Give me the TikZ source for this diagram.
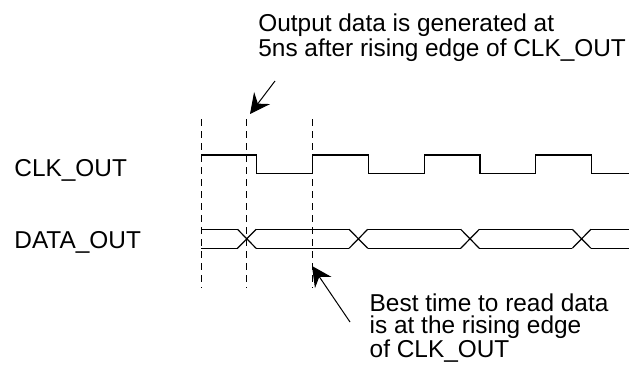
\documentclass[tikz,border=0pt]{standalone}
\usepackage{fontspec}
\setmainfont{Liberation Sans}
\usetikzlibrary{arrows.meta}

\begin{document}
\begin{tikzpicture}[
    x=0.5pt,y=-0.5pt,
    nom/.style    = {inner sep=0pt,anchor=base west,
                     font=\fontsize{12.2}{10.85}\selectfont},
    remarque/.style = {inner sep=0pt,anchor=north west,align=left,
                     font=\fontsize{12.2}{10.85}\selectfont},
    signal/.style = {line width=0.6pt,line join=miter},
    repere/.style = {line width=0.5pt,dash pattern=on 3.5pt off 2.5pt},
    fleche/.style = {line width=0.5pt,
                     -{Stealth[length=10pt,width=10pt,inset=3.5pt]}},
  ]
  \useasboundingbox (0,0) rectangle (640,369);

  % ── Noms des signaux ─────────────────────────────────────────────────────
  \node[nom] (clk)  at (14,176)   {CLK\_OUT};
  \node[nom] (data) at (14,248.3) {DATA\_OUT};

  % ── CLK_OUT ──────────────────────────────────────────────────────────────
  \draw[signal] (201,155)
    \foreach \x in {256.8,368.4,480} {
      -- (\x,155) -- (\x,173.7) -- (\x+55.8,173.7) -- (\x+55.8,155)
    }
    -- (591.6,155) -- (591.6,173.7) -- (629,173.7);

  % ── DATA_OUT ─────────────────────────────────────────────────────────────
  \foreach \a/\b in {201/237.5,256.1/349.1,367.7/460.7,479.3/572.3,590.9/629}
    \draw[signal] (\a,229.3) -- (\b,229.3) (\a,248.3) -- (\b,248.3);
  \foreach \c in {246.8,358.4,470,581.6}
    \draw[signal] (\c-9.3,229.3) -- (\c+9.3,248.3)
                  (\c-9.3,248.3) -- (\c+9.3,229.3);

  % ── Reperes en tirets ────────────────────────────────────────────────────
  \foreach \x/\n in {201/a,246.5/b,312.4/c} {
    \coordinate (\n haut) at (\x,119);
    \coordinate (\n bas)  at (\x,288);
    \draw[repere] (\n haut) -- (\n bas);
  }

  % ── Annotations ──────────────────────────────────────────────────────────
  \node[remarque] (sortie) at (258,13.5)
       {Output data is generated at\\5ns after rising edge of CLK\_OUT};
  \node[remarque] (lecture) at (369.3,293.3)
       {Best time to read data\\is at the rising edge\\of CLK\_OUT};

  \coordinate (q1) at (275,81);
  \coordinate (p1) at (250,114);
  \draw[fleche] (q1) -- (p1);

  \coordinate (q2) at (350,322);
  \coordinate (p2) at (312,266);
  \draw[fleche] (q2) -- (p2);

\end{tikzpicture}
\end{document}
